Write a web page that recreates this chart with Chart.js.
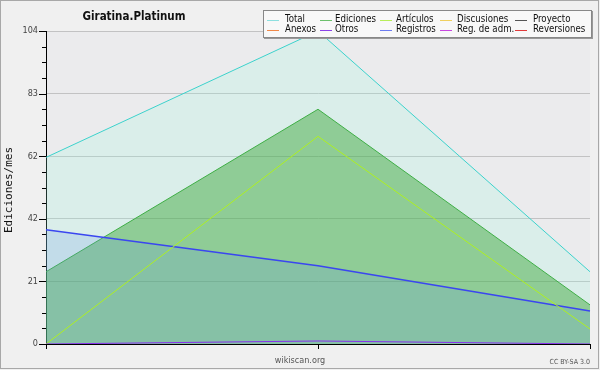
<!DOCTYPE html>
<html><head><meta charset="utf-8">
<script src="https://cdn.jsdelivr.net/npm/chart.js@4/dist/chart.umd.min.js"></script>
<style>html,body{margin:0;padding:0;background:#fff}#wrap{width:600px;height:370px}</style>
</head><body><div id="wrap"><canvas id="c" width="600" height="370"></canvas></div>
<script>
const categories = ['1', '2', '3'];
const total = [62, 104, 24];
const ediciones = [24, 78, 13];
const articulos = [0, 69, 5];
const registros = [38, 26, 11];
const otros = [0, 1, 0];
const yTickLabels = [0, 21, 42, 62, 83, 104];
const legendNames = ['Total', 'Ediciones', 'Artículos', 'Discusiones', 'Proyecto',
                     'Anexos', 'Otros', 'Registros', 'Reg. de adm.', 'Reversiones'];
const legendColors = ['#8ee0e0', '#6cc06c', '#b8ee5a', '#f0d060', '#555555',
                      '#f08848', '#8a44e8', '#6c7cf0', '#c848e0', '#e03a3a'];
const chartTitle = 'Giratina.Platinum';
const yTitle = 'Ediciones/mes';
const siteText = 'wikiscan.org';
const licenseText = 'CC BY-SA 3.0';

const SANS = '"DejaVu Sans Condensed", "DejaVu Sans", sans-serif';
const YMAX = 104;

const decor = {
  id: 'decor',
  beforeDraw(chart) {
    const ctx = chart.ctx, a = chart.chartArea;
    ctx.save();
    ctx.fillStyle = '#f0f0f0';
    ctx.fillRect(0, 0, 600, 370);
    ctx.fillStyle = '#ebebed';
    ctx.fillRect(a.left, a.top, a.right - a.left, a.bottom - a.top);
    ctx.restore();
  },
  afterDraw(chart) {
    const ctx = chart.ctx, a = chart.chartArea;
    const ys = chart.scales.y, xs = chart.scales.x;
    ctx.save();
    ctx.strokeStyle = '#000';
    ctx.lineWidth = 1;
    ys.ticks.forEach((t, i) => {
      const y = Math.round(ys.getPixelForValue(t.value)) + 0.5;
      const len = (i % 4 === 0) ? 7 : 4;
      ctx.beginPath();
      ctx.moveTo(a.left - len, y);
      ctx.lineTo(a.left, y);
      ctx.stroke();
    });
    categories.forEach((c, i) => {
      const x = Math.round(xs.getPixelForValue(i)) + 0.5;
      ctx.beginPath();
      ctx.moveTo(x, a.bottom);
      ctx.lineTo(x, a.bottom + 5);
      ctx.stroke();
    });
    ctx.fillStyle = '#111';
    ctx.font = 'bold 11.5px ' + SANS;
    ctx.textAlign = 'center';
    ctx.textBaseline = 'middle';
    ctx.fillText(chartTitle, 134, 17);
    ctx.save();
    ctx.translate(9, 190);
    ctx.rotate(-Math.PI / 2);
    ctx.font = '11px "DejaVu Sans Mono", monospace';
    ctx.fillStyle = '#111';
    ctx.fillText(yTitle, 0, 0);
    ctx.restore();
    ctx.font = '9px ' + SANS;
    ctx.fillStyle = '#555';
    ctx.fillText(siteText, 300, 361);
    ctx.font = '7px ' + SANS;
    ctx.textAlign = 'right';
    ctx.fillText(licenseText, 590, 362);
    ctx.fillStyle = '#f8f8f8';
    ctx.fillRect(263, 10, 329, 28);
    ctx.strokeStyle = '#888';
    ctx.lineWidth = 1;
    ctx.strokeRect(263.5, 10.5, 328, 27);
    ctx.strokeStyle = '#999';
    ctx.beginPath();
    ctx.moveTo(264, 38.5); ctx.lineTo(593, 38.5);
    ctx.moveTo(592.5, 11); ctx.lineTo(592.5, 39);
    ctx.stroke();
    const lineX = [267, 320, 380, 440, 515];
    const textX = [285, 335, 396, 457, 533];
    const rowY = [19.5, 29.5];
    ctx.font = '9.6px ' + SANS;
    ctx.textAlign = 'left';
    ctx.textBaseline = 'middle';
    legendNames.forEach((name, i) => {
      const col = i % 5, row = Math.floor(i / 5);
      const y = Math.round(rowY[row]) + 0.5;
      ctx.strokeStyle = legendColors[i];
      ctx.beginPath();
      ctx.moveTo(lineX[col], y);
      ctx.lineTo(lineX[col] + 12, y);
      ctx.stroke();
      ctx.fillStyle = '#111';
      ctx.fillText(name, textX[col], rowY[row]);
    });
    ctx.strokeStyle = '#a8a8a8';
    ctx.strokeRect(0.5, 0.5, 598, 368);
    ctx.restore();
  }
};

new Chart(document.getElementById('c'), {
  type: 'line',
  data: {
    labels: categories,
    datasets: [
      { label: 'Total', data: total, borderColor: '#3cd2cc', backgroundColor: 'rgba(150,250,225,0.2)',
        fill: 'origin', order: 5 },
      { label: 'Ediciones', data: ediciones, borderColor: '#3fae46', backgroundColor: 'rgba(60,165,55,0.47)',
        fill: 'origin', order: 4 },
      { label: 'Registros', data: registros, borderColor: '#3a46f0', backgroundColor: 'rgba(100,150,230,0.2)',
        fill: 'origin', order: 3, borderWidth: 1.5 },
      { label: 'Artículos', data: articulos, borderColor: '#aef020', fill: false, order: 2 },
      { label: 'Otros', data: otros, borderColor: '#8a30ee', fill: false, order: 1 }
    ]
  },
  options: {
    responsive: false,
    animation: false,
    devicePixelRatio: 1,
    layout: { padding: { top: 31, right: 10, left: 0, bottom: 0 } },
    elements: { line: { tension: 0, borderWidth: 1 }, point: { radius: 0 } },
    plugins: { legend: { display: false }, title: { display: false }, tooltip: { enabled: false } },
    scales: {
      x: {
        type: 'category', offset: false,
        grid: { display: false, drawTicks: false },
        border: { display: true, color: '#000', width: 1 },
        ticks: { display: false },
        afterFit(s) { s.height = 26; }
      },
      y: {
        min: 0, max: YMAX,
        afterBuildTicks(s) {
          const t = [];
          for (let i = 0; i <= 20; i++) t.push({ value: i * YMAX / 20 });
          s.ticks = t;
        },
        ticks: {
          autoSkip: false, padding: 8, color: '#444',
          font: { family: SANS, size: 9 },
          callback(v, i) { return i % 4 === 0 ? String(yTickLabels[i / 4]) : ''; }
        },
        grid: {
          drawTicks: false,
          color(c) { return (c.index % 4 === 0) ? 'rgba(190,190,190,0.9)' : 'rgba(0,0,0,0)'; }
        },
        border: { display: true, color: '#000', width: 1 },
        afterFit(s) { s.width = 46; }
      }
    }
  },
  plugins: [decor]
});
</script>
</body></html>
